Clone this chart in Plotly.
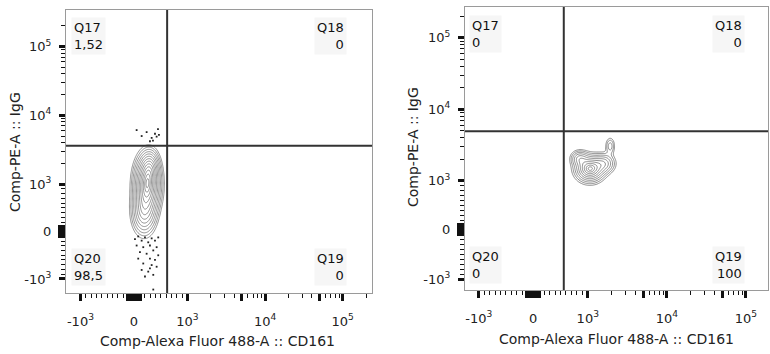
import numpy as np
import plotly.graph_objects as go

# ---------------- data ----------------
X_TITLE = "Comp-Alexa Fluor 488-A :: CD161"
Y_TITLE = "Comp-PE-A :: IgG"

TICK_VALS = [-1000, 0, 1000, 10000, 100000]
TICK_TEXT = ["-10<sup>3</sup>", "0", "10<sup>3</sup>", "10<sup>4</sup>", "10<sup>5</sup>"]

# quadrant names and percentages per panel
QUAD_NAMES = ["Q17", "Q18", "Q20", "Q19"]
PCT_LEFT = ["1,52", "0", "98,5", "0"]
PCT_RIGHT = ["0", "0", "0", "100"]

# quadrant gate positions (data values)
GATE_X = [620, 560]
GATE_Y = [3600, 4900]

# axis ranges (data values)
X_RANGE = [[-1535, 239000], [-1490, 190000]]
Y_RANGE = [[-1600, 340000], [-1420, 270000]]

# density components (centre in data values, spread in display units, weight)
P1_CX = [250, 190, 300]
P1_CY = [1000, 420, 1800]
P1_SX = [0.13, 0.125, 0.09]
P1_SY = [0.32, 0.27, 0.19]
P1_W = [1.0, 0.45, 0.3]

P2_CX = [1065, 1611, 850, 1919]
P2_CY = [1464, 1742, 2044, 3040]
P2_SX = [0.14, 0.11, 0.09, 0.05]
P2_SY = [0.14, 0.11, 0.09, 0.10]
P2_W = [1.0, 0.4, 0.35, 0.2]

# outlying events of panel 1 (data values)
EV_X = [19, 80, 144, 206, 267, 331, 393, 454, 50, 174, 299, 424, 112, 237, 361,
        454, 80, 299, 393, 174, 331, 424, 144, 267, 361, 206, 299, 361,
        50, 144, 237, 331, 355, 393, 449, 424, 299, 467]
EV_Y = [-159, -103, -192, -124, -227, -144, -192, -124, -295, -330, -295, -330,
        -433, -468, -398, -501, -571, -571, -598, -674, -707, -742, -810, -845,
        -913, -948, -777, -1425,
        6100, 5000, 5700, 4700, 4300, 5400, 6300, 4900, 4200, 5200]

# ---------------- biexponential-like display scale ----------------
K = 1.45  # display units per decade above 10^3


def T(v):
    v = np.asarray(v, dtype=float)
    a = np.abs(v)
    lin = v / 1000.0
    logp = np.sign(v) * (1 + (np.log10(np.maximum(a, 1000.0)) - 3) * K)
    return np.where(a <= 1000, lin, logp)


def density(cx, cy, sx, sy, w, xr, yr):
    gx = np.linspace(T(xr[0]), T(xr[1]), 320)
    gy = np.linspace(T(yr[0]), T(yr[1]), 320)
    X, Y = np.meshgrid(gx, gy)
    Z = np.zeros_like(X)
    for a, b, s, t, ww in zip(cx, cy, sx, sy, w):
        Z += ww * np.exp(-0.5 * (((X - T(a)) / s) ** 2 + ((Y - T(b)) / t) ** 2))
    R = np.sqrt(-2 * np.log(np.clip(Z / Z.max(), 1e-12, 1)))
    return gx, gy, np.clip(R, 0, 8)


FONT = "DejaVu Sans"
fig = go.Figure()

gx, gy, R = density(P1_CX, P1_CY, P1_SX, P1_SY, P1_W, X_RANGE[0], Y_RANGE[0])
fig.add_trace(go.Contour(x=gx, y=gy, z=R, xaxis="x", yaxis="y", showscale=False,
                         contours=dict(start=0.2, end=2.65, size=0.19, coloring="none"),
                         line=dict(color="#747474", width=0.8), hoverinfo="skip"))
fig.add_trace(go.Scatter(x=T(EV_X), y=T(EV_Y), mode="markers", xaxis="x", yaxis="y",
                         marker=dict(size=1.8, color="#222", symbol="square"),
                         showlegend=False, hoverinfo="skip"))

gx, gy, R = density(P2_CX, P2_CY, P2_SX, P2_SY, P2_W, X_RANGE[1], Y_RANGE[1])
fig.add_trace(go.Contour(x=gx, y=gy, z=R, xaxis="x2", yaxis="y2", showscale=False,
                         contours=dict(start=0.25, end=2.6, size=0.24, coloring="none"),
                         line=dict(color="#707070", width=0.8), hoverinfo="skip"))

# ticks: labelled majors, heavy unlabelled ticks (overlay axes), thin minors
near0_x = [-120, -90, -60, -30, 30, 60, 90, 120]
near0_y = [-100, -75, -50, -25, 25, 50, 75, 100]
heavy_x = [5000, 50000] + near0_x
heavy_y = near0_y
minor_vals = [v for v in range(-1000, 1001, 100) if abs(v) > 120 and abs(v) != 1000]
minor_vals += [m * 10 ** e for e in (3, 4) for m in range(2, 10)] + [200000, -2000]

W, H = 770, 354
DOM_X = [[66 / W, 372 / W], [465 / W, 768 / W]]
DOM_Y = [[1 - 293 / H, 1 - 10 / H], [1 - 290 / H, 1 - 7 / H]]

tickfont = dict(family=FONT, size=13, color="#222")


def base_axis(dom, rng, anchor):
    return dict(domain=dom, anchor=anchor, range=rng, showgrid=False, zeroline=False,
                fixedrange=True)


layout_axes = {}
for i in range(2):
    xs = "" if i == 0 else "2"
    xr = [float(T(X_RANGE[i][0])), float(T(X_RANGE[i][1]))]
    yr = [float(T(Y_RANGE[i][0])), float(T(Y_RANGE[i][1]))]
    xa = base_axis(DOM_X[i], xr, "y" + xs)
    xa.update(tickmode="array", tickvals=list(T(TICK_VALS)), ticktext=TICK_TEXT,
              ticks="outside", ticklen=7, tickwidth=3, tickcolor="#111",
              ticklabelstandoff=9, tickfont=tickfont,
              minor=dict(tickmode="array", tickvals=list(T(minor_vals)), ticks="outside",
                         ticklen=4, tickwidth=1, tickcolor="#111"),
              showline=True, mirror=True, linecolor="#9a9a9a", linewidth=1)
    ya = base_axis(DOM_Y[i], yr, "x" + xs)
    ya.update(tickmode="array", tickvals=list(T(TICK_VALS)), ticktext=TICK_TEXT,
              ticks="outside", ticklen=6, tickwidth=3, tickcolor="#111",
              ticklabelstandoff=5, tickfont=tickfont,
              minor=dict(tickmode="array", tickvals=list(T(minor_vals)), ticks="outside",
                         ticklen=4, tickwidth=1, tickcolor="#111"),
              showline=True, mirror=True, linecolor="#9a9a9a", linewidth=1)
    layout_axes["xaxis" + xs] = xa
    layout_axes["yaxis" + xs] = ya
    # overlay axes for heavy unlabelled ticks
    ox_name, oy_name = str(3 + i), str(3 + i)
    ox = base_axis(DOM_X[i], xr, "y" + oy_name)
    ox.update(overlaying="x" + xs, side="bottom", tickmode="array",
              tickvals=list(T(heavy_x)), ticks="outside", ticklen=7, tickwidth=3,
              tickcolor="#111", showticklabels=False, showline=False)
    oy = base_axis(DOM_Y[i], yr, "x" + ox_name)
    oy.update(overlaying="y" + xs, side="left", tickmode="array",
              tickvals=list(T(heavy_y)), ticks="outside", ticklen=7, tickwidth=3,
              tickcolor="#111", showticklabels=False, showline=False)
    layout_axes["xaxis" + ox_name] = ox
    layout_axes["yaxis" + oy_name] = oy
    # empty trace so the overlay axes are drawn
    fig.add_trace(go.Scatter(x=[None], y=[None], xaxis="x" + ox_name, yaxis="y" + oy_name,
                             mode="markers", showlegend=False, hoverinfo="skip"))

shapes = []
for i, (xr, yr) in enumerate([("x", "y"), ("x2", "y2")]):
    shapes.append(dict(type="line", xref=xr, yref=yr + " domain",
                       x0=float(T(GATE_X[i])), x1=float(T(GATE_X[i])), y0=0, y1=1,
                       line=dict(color="#333", width=2)))
    shapes.append(dict(type="line", xref=xr + " domain", yref=yr,
                       x0=0, x1=1, y0=float(T(GATE_Y[i])), y1=float(T(GATE_Y[i])),
                       line=dict(color="#333", width=2)))

ann = []
panels = [
    dict(pct=PCT_LEFT, left=71, right=347, top=17, bottom=248, xc=217, xt_y=341, yx=15, yc=152),
    dict(pct=PCT_RIGHT, left=469, right=745, top=15, bottom=246, xc=616, xt_y=339, yx=413, yc=147),
]
for p in panels:
    pos = [(p["left"], p["top"], "left"), (p["right"], p["top"], "right"),
           (p["left"], p["bottom"], "left"), (p["right"], p["bottom"], "right")]
    for name, pct, (px, py, side) in zip(QUAD_NAMES, p["pct"], pos):
        ann.append(dict(text=f"{name}<br>{pct}", xref="paper", yref="paper",
                        x=px / W, y=1 - py / H, xanchor=side, yanchor="top", align=side,
                        showarrow=False, bgcolor="#f6f6f6", borderpad=2,
                        font=dict(family=FONT, size=13, color="#111")))
    ann.append(dict(text=X_TITLE, xref="paper", yref="paper", x=p["xc"] / W,
                    y=1 - p["xt_y"] / H, xanchor="center", yanchor="middle",
                    showarrow=False, font=dict(family=FONT, size=14, color="#222")))
    ann.append(dict(text=Y_TITLE, xref="paper", yref="paper", x=p["yx"] / W,
                    y=1 - p["yc"] / H, xanchor="center", yanchor="middle", textangle=-90,
                    showarrow=False, font=dict(family=FONT, size=14, color="#222")))

fig.update_layout(
    width=W, height=H, margin=dict(l=0, r=0, t=0, b=0),
    paper_bgcolor="white", plot_bgcolor="white", showlegend=False,
    shapes=shapes, annotations=ann, **layout_axes,
)

fig.write_html("out.html", config={"displayModeBar": False},
               post_script="document.body.style.margin='0';")
